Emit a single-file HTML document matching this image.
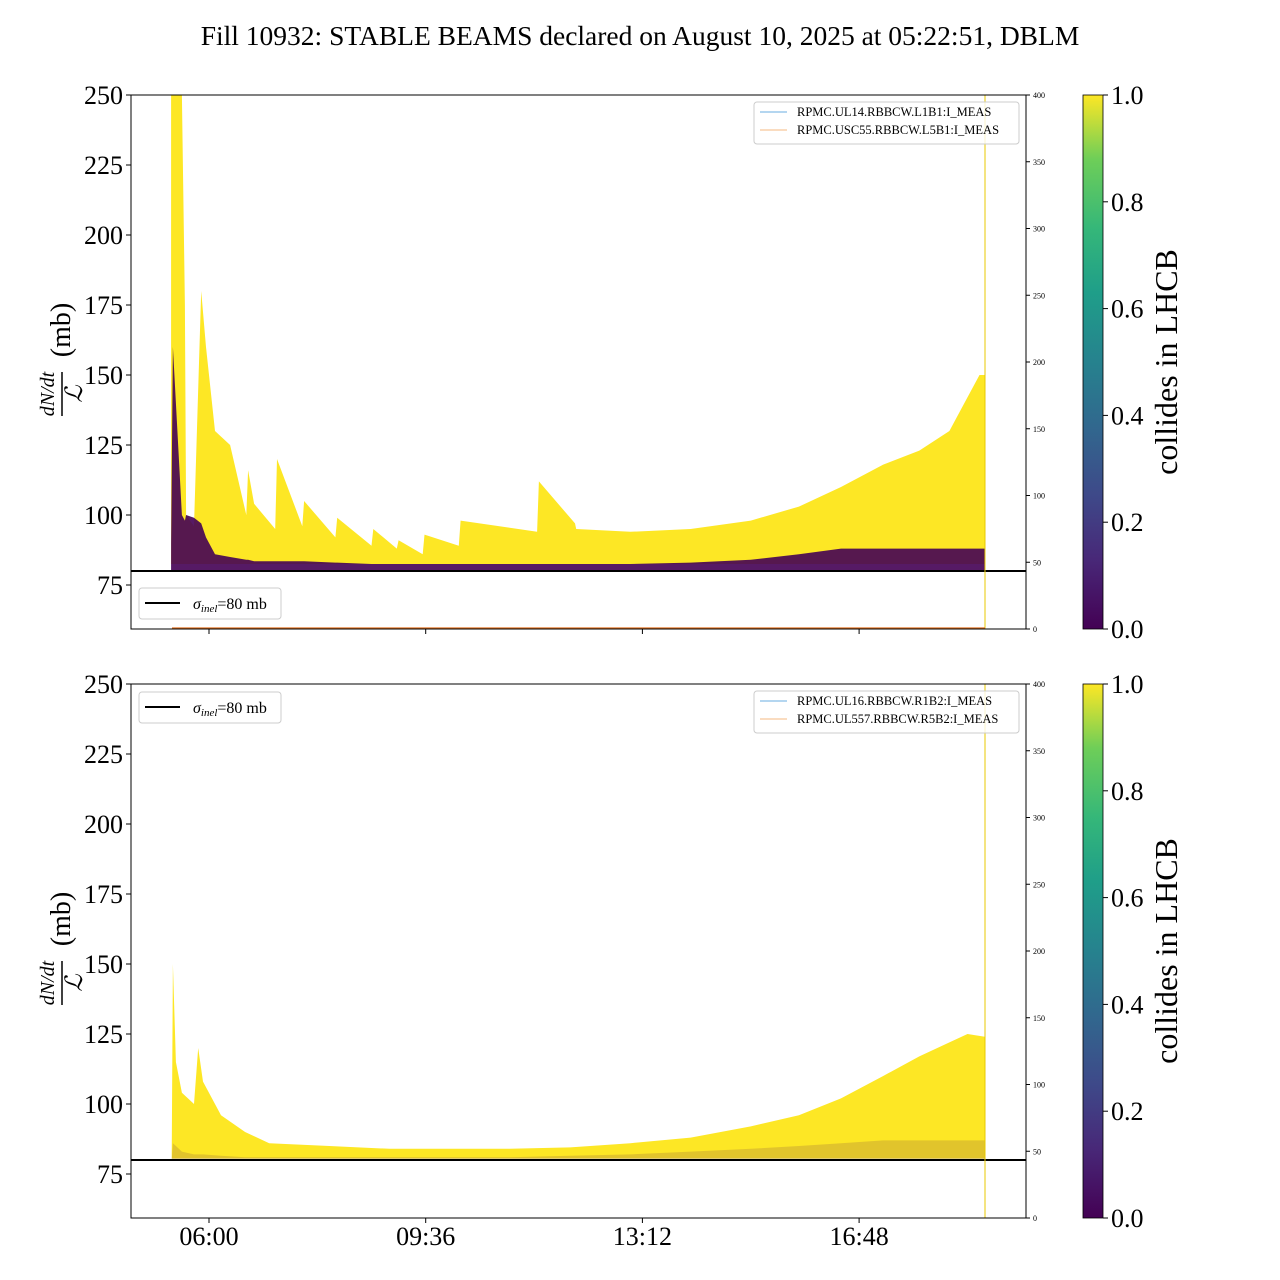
<!DOCTYPE html>
<html><head><meta charset="utf-8"><style>
body{margin:0;background:#fff;}
svg{display:block;font-family:"Liberation Serif",serif;}
</style></head><body>
<svg id="fig" width="1280" height="1280" xmlns="http://www.w3.org/2000/svg">
<defs><linearGradient id="vir" x1="0" y1="1" x2="0" y2="0">
<stop offset="0" stop-color="#440154"/><stop offset="0.13" stop-color="#482878"/><stop offset="0.25" stop-color="#3e4989"/><stop offset="0.38" stop-color="#31688e"/><stop offset="0.5" stop-color="#26828e"/><stop offset="0.63" stop-color="#1f9e89"/><stop offset="0.75" stop-color="#35b779"/><stop offset="0.88" stop-color="#6ece58"/><stop offset="1" stop-color="#fde725"/></linearGradient></defs>
<text x="640" y="45" font-size="27.5" text-anchor="middle">Fill 10932: STABLE BEAMS declared on August 10, 2025 at 05:22:51, DBLM</text>
</svg>
<script>
// x in hours of day
const topTimes=[5.37,5.40,5.55,5.60,5.62,5.75,5.87,5.95,6.10,6.35,6.62,6.65,6.75,7.10,7.13,7.55,7.58,8.10,8.13,8.70,8.73,9.12,9.15,9.55,9.58,10.15,10.18,11.45,11.48,12.08,12.10,13.0,14.0,15.0,15.8,16.5,17.2,17.8,18.3,18.5,18.8,18.89];
const topUpper=[250,250,250,175,100,96,180,160,130,125,100,116,104,95,120,96,105,92,99,89,95,88,91,86,93,89,98,94,112,97,95,94,95,98,103,110,118,123,130,138,150,150];
const topPurple=[90,160,100,98,100,99,97,92,86,85,84,84,83.5,83.5,83.5,83.5,83.5,83,83,82.5,82.5,82.5,82.5,82.5,82.5,82.5,82.5,82.5,82.5,82.5,82.5,82.5,83,84,86,88,88,88,88,88,88,88];
const botTimes=[5.38,5.40,5.45,5.55,5.75,5.82,5.9,6.2,6.6,7.0,8.0,9.0,10.0,11.0,12.0,13.0,14.0,15.0,15.8,16.5,17.2,17.8,18.3,18.6,18.89];
const botUpper=[80,150,115,104,100,120,108,96,90,86,85,84,84,84,84.5,86,88,92,96,102,110,117,122,125,124];
const botPurple=[80,86,85,83,82,82,82,81.5,81,81,81,81,81,81,81.5,82,83,84,85,86,87,87,87,87,87];
const yTicks=[75,100,125,150,175,200,225,250];
const rTicks=[0,50,100,150,200,250,300,350,400];
const xTickHours=[6,9.6,13.2,16.8];
const xTickLabels=["06:00","09:36","13:12","16:48"];
const cbTicks=[0,0.2,0.4,0.6,0.8,1.0];

const NS="http://www.w3.org/2000/svg";
const svg=document.getElementById('fig');
const X0=131,X1=1026;
const xs=h=>209+(h-6)/3.6*216.7;
function mk(tag,attrs,parent,text){const e=document.createElementNS(NS,tag);for(const k in attrs)e.setAttribute(k,attrs[k]);if(text!==undefined)e.textContent=text;(parent||svg).appendChild(e);return e;}
function panel(top,times,upper,purple,legendItems,sigmaTop,idx){
  const bot=top+534;
  const ys=v=>top+(250-v)*2.8;
  const g=mk('g',{});
  
  
  const clip=mk('clipPath',{id:'c'+idx},g);mk('rect',{x:X0,y:top,width:X1-X0,height:bot-top},clip);
  const dg=mk('g',{'clip-path':'url(#c'+idx+')'},g);
  const base=idx===0?82.5:80.5;
  let d='M'+xs(times[0])+','+ys(base);
  times.forEach((t,i)=>{d+=' L'+xs(t).toFixed(1)+','+ys(upper[i]).toFixed(1);});
  d+=' L'+xs(times[times.length-1])+','+ys(base)+'Z';
  const y=mk('path',{d:d,fill:'#fde725'},dg);
  
  
  let p='M'+xs(times[0])+','+ys(80);
  times.forEach((t,i)=>{p+=' L'+xs(t).toFixed(1)+','+ys(purple[i]).toFixed(1);});
  p+=' L'+xs(times[times.length-1])+','+ys(80)+'Z';
  const pp=mk('path',{d:p,fill:'#440154','fill-opacity':idx===0?0.9:0.15},dg);
  
  
  const sl=mk('line',{x1:X0,x2:X1,y1:ys(80),y2:ys(80),stroke:'#000','stroke-width':2},g);
  
  
  mk('line',{x1:985,x2:985,y1:top,y2:bot,stroke:'#e8c800','stroke-width':1},g);
  if(idx===0)mk('line',{x1:172,x2:985,y1:bot-1,y2:bot-1,stroke:'#e07020','stroke-width':1.2},g);
  mk('rect',{x:X0,y:top,width:X1-X0,height:bot-top,fill:'none',stroke:'#000','stroke-width':1},g);
  yTicks.forEach(v=>{mk('line',{x1:X0-5,x2:X0,y1:ys(v),y2:ys(v),stroke:'#000'},g);
    const t=mk('text',{x:X0-8,y:ys(v)+9,'font-size':26,'text-anchor':'end'},g,String(v));
    });
  rTicks.forEach(v=>{const yy=bot-v/400*534;mk('line',{x1:X1,x2:X1+4,y1:yy,y2:yy,stroke:'#000'},g);
    const t=mk('text',{x:X1+7,y:yy+3,'font-size':8},g,String(v));
    });
  xTickHours.forEach((h,i)=>{mk('line',{x1:xs(h),x2:xs(h),y1:bot,y2:bot+5,stroke:'#000'},g);
    if(idx===1){const t=mk('text',{x:xs(h),y:bot+27,'font-size':26,'text-anchor':'middle'},g,xTickLabels[i]);
    }});
  const yl=mk('g',{transform:'translate(62,'+(top+267)+') rotate(-90)'},g);
  
  
  mk('text',{x:-32,y:-8,'font-size':20,'font-style':'italic','text-anchor':'middle'},yl,'dN/dt');
  mk('line',{x1:-54,x2:-10,y1:0,y2:0,stroke:'#000','stroke-width':1.5},yl);
  mk('text',{x:-32,y:20,'font-size':24,'font-style':'italic','text-anchor':'middle'},yl,'ℒ');
  mk('text',{x:32,y:8,'font-size':28,'text-anchor':'middle'},yl,'(mb)');
  const sg=mk('g',{},g);
  
  
  mk('rect',{x:139,y:sigmaTop,width:142,height:31,rx:3,fill:'#fff',stroke:'#ccc'},sg);
  mk('line',{x1:145,x2:180,y1:sigmaTop+15,y2:sigmaTop+15,stroke:'#000','stroke-width':2},sg);
  const st=mk('text',{x:193,y:sigmaTop+21,'font-size':16},sg);
  mk('tspan',{'font-style':'italic'},st,'σ');mk('tspan',{'font-style':'italic','font-size':11,dy:3},st,'inel');mk('tspan',{dy:-3},st,'=80 mb');
  const lg=mk('g',{},g);
  
  
  mk('rect',{x:754,y:top+7,width:265,height:42,rx:3,fill:'#fff','fill-opacity':0.8,stroke:'#ccc'},lg);
  const cols=['#6aaee0','#f5b880'];
  legendItems.forEach((s,i)=>{const yy=top+17+i*18;
    mk('line',{x1:760,x2:787,y1:yy,y2:yy,stroke:cols[i]},lg);
    const t=mk('text',{x:797,y:yy+4,'font-size':12.5},lg,s);
    });
  const cb=mk('g',{},g);
  
  
  mk('rect',{x:1083,y:top,width:20,height:534,fill:'url(#vir)',stroke:'#000','stroke-width':0.8},cb);
  cbTicks.forEach(v=>{const yy=bot-v*534;mk('line',{x1:1103,x2:1108,y1:yy,y2:yy,stroke:'#000'},cb);
    mk('text',{x:1111,y:yy+9,'font-size':26},cb,v.toFixed(1));});
  const ct=mk('text',{transform:'translate(1177,'+(top+267)+') rotate(-90)','font-size':32,'text-anchor':'middle'},cb,'collides in LHCB');
  
}
panel(95,topTimes,topUpper,topPurple,['RPMC.UL14.RBBCW.L1B1:I_MEAS','RPMC.USC55.RBBCW.L5B1:I_MEAS'],588,0);
panel(684,botTimes,botUpper,botPurple,['RPMC.UL16.RBBCW.R1B2:I_MEAS','RPMC.UL557.RBBCW.R5B2:I_MEAS'],692,1);
</script>
</body></html>
